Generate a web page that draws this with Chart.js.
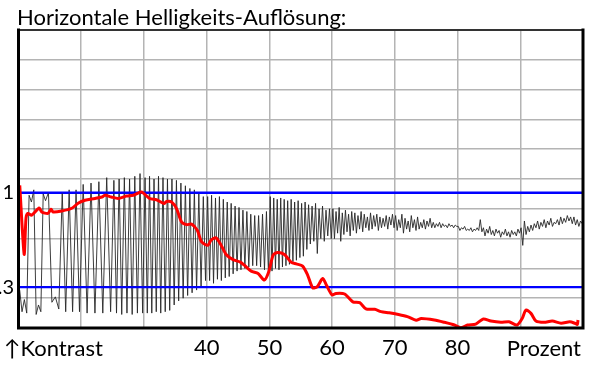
<!DOCTYPE html>
<html>
<head>
<meta charset="utf-8">
<script src="https://cdn.jsdelivr.net/npm/chart.js@4.4.1/dist/chart.umd.min.js"></script>
<style>
  html, body { margin: 0; padding: 0; background: #fff; }
</style>
</head>
<body>
<canvas id="chart" width="600" height="377"></canvas>
<script>
const titleText = "Horizontale Helligkeits-Auflösung:";
const xLeftLabel = "\u2191Kontrast";
const xRightLabel = "Prozent";
const xLabels = [40, 50, 60, 70, 80];
const yRefLevels = [1, 0.3];
const yRefLabels = ["1", ".3"];

// red curve: percent / contrast
const redX = [10.2, 10.9, 11.2, 11.5, 12.1, 13.3, 13.7, 14.7, 15.2, 15.5, 16.9, 18.5, 19.5, 20.6, 22.2, 23.3,
  23.8, 24.8, 25.9, 27.2, 28.3, 29.6, 30.9, 32.0, 33.2, 33.6, 34.4, 35.2, 36.0, 36.8, 37.6, 38.5, 39.2,
  40.2, 40.7, 41.5, 42.3, 43.1, 44.2, 45.3, 46.0, 47.1, 48.2, 49.2, 49.9, 50.6, 51.3, 52.4, 53.5, 54.3,
  55.3, 56.1, 56.9, 57.6, 58.5, 59.1, 60.0, 60.6, 62.0, 63.3, 64.4, 65.4, 66.8, 67.8, 69.1, 70.4, 72.0,
  73.4, 74.2, 76.3, 77.9, 79.5, 80.5, 81.6, 82.9, 84.1, 85.3, 86.9, 88.2, 89.5, 90.3, 90.9, 91.7, 92.5,
  93.8, 95.1, 96.5, 97.9, 98.7, 99.1, 99.2];
const redY = [1.053, 0.545, 0.811, 0.846, 0.833, 0.886, 0.857, 0.846, 0.877, 0.857, 0.864, 0.884, 0.921,
  0.943, 0.956, 0.967, 0.980, 0.967, 0.956, 0.974, 0.980, 1.004, 0.956, 0.947, 0.919, 0.934, 0.930, 0.881,
  0.782, 0.763, 0.767, 0.721, 0.635, 0.611, 0.648, 0.666, 0.611, 0.543, 0.505, 0.488, 0.464, 0.420, 0.402,
  0.354, 0.415, 0.538, 0.558, 0.543, 0.484, 0.473, 0.457, 0.391, 0.297, 0.303, 0.365, 0.316, 0.244, 0.255,
  0.251, 0.193, 0.187, 0.141, 0.138, 0.121, 0.112, 0.101, 0.084, 0.057, 0.070, 0.059, 0.042, 0.022, 0.002,
  0.022, 0.029, 0.066, 0.051, 0.042, 0.046, 0.022, 0.070, 0.132, 0.108, 0.051, 0.042, 0.051, 0.035, 0.046,
  0.035, 0.026, 0.059];

// gray curve: samples spread evenly inside each band
const grayEdges = [10, 14.5, 20, 25, 30, 40, 50, 60, 70, 80, 90, 100];
const grayRuns = [
  [0.28, 0.12, 0.21, 0.11, 0.98, 0.93, 1.02, 0.10, 0.17, 0.12, 0.99, 0.94],
  [1.00, 0.19, 0.23, 0.14, 1.00, 0.12, 1.02, 0.12, 1.02, 0.12],
  [1.06, 0.11, 1.07, 0.11, 1.08, 0.11, 1.11, 0.12],
  [1.09, 0.11, 1.10, 0.10, 1.11, 0.11, 1.10, 0.10, 1.12, 0.11, 1.14, 0.11],
  [1.11, 0.11, 1.12, 0.11, 1.10, 0.12, 1.12, 0.11, 1.11, 0.12, 1.10, 0.13, 1.10, 0.17, 1.09, 0.20,
   1.07, 0.22, 1.05, 0.24, 1.03, 0.26, 1.02, 0.28, 0.99, 0.31, 0.97, 0.35],
  [0.97, 0.35, 0.98, 0.33, 0.96, 0.36, 0.97, 0.35, 0.95, 0.37, 0.93, 0.38, 0.92, 0.40, 0.90, 0.42,
   0.89, 0.43, 0.87, 0.44, 0.86, 0.45, 0.84, 0.46, 0.83, 0.46, 0.83, 0.45, 0.84, 0.43, 0.86, 0.41],
  [0.97, 0.42, 0.96, 0.44, 0.95, 0.43, 0.96, 0.45, 0.95, 0.46, 0.94, 0.47, 0.95, 0.49, 0.93, 0.50,
   0.94, 0.52, 0.92, 0.53, 0.93, 0.58, 0.91, 0.62, 0.90, 0.64, 0.92, 0.55, 0.88, 0.66, 0.90, 0.64,
   0.87, 0.68, 0.88, 0.66],
  [0.88, 0.66, 0.86, 0.70, 0.89, 0.64, 0.85, 0.69, 0.87, 0.71, 0.84, 0.68, 0.86, 0.72, 0.85, 0.70,
   0.83, 0.73, 0.86, 0.71, 0.84, 0.74, 0.82, 0.72, 0.85, 0.73, 0.83, 0.75, 0.84, 0.72, 0.82, 0.74,
   0.81, 0.75, 0.83, 0.73, 0.82, 0.76, 0.84, 0.74],
  [0.83, 0.72, 0.80, 0.74, 0.84, 0.70, 0.81, 0.73, 0.79, 0.71, 0.83, 0.74, 0.80, 0.72, 0.82, 0.73,
   0.78, 0.74, 0.80, 0.73, 0.79, 0.75, 0.81, 0.74, 0.78, 0.74, 0.77, 0.75, 0.78, 0.74, 0.77, 0.75,
   0.76, 0.74, 0.77, 0.75, 0.76, 0.74, 0.76, 0.75],
  [0.75, 0.72, 0.74, 0.73, 0.75, 0.72, 0.73, 0.72, 0.74, 0.71, 0.73, 0.72, 0.74, 0.72, 0.80, 0.71,
   0.74, 0.68, 0.73, 0.70, 0.75, 0.69, 0.72, 0.68, 0.73, 0.70, 0.72, 0.67, 0.71, 0.69, 0.73, 0.68,
   0.71, 0.67, 0.72, 0.69, 0.71, 0.68, 0.73, 0.70],
  [0.74, 0.61, 0.79, 0.69, 0.75, 0.71, 0.76, 0.72, 0.77, 0.74, 0.79, 0.73, 0.78, 0.75, 0.80, 0.74,
   0.79, 0.76, 0.81, 0.75, 0.78, 0.77, 0.80, 0.76, 0.82, 0.77, 0.81, 0.78, 0.83, 0.79, 0.82, 0.77,
   0.82, 0.76, 0.80, 0.75, 0.79, 0.77]
];

const grayPoints = [];
grayRuns.forEach((run, b) => {
  const x0 = grayEdges[b], x1 = grayEdges[b + 1];
  run.forEach((v, i) => grayPoints.push({ x: x0 + (x1 - x0) * (i + 0.5) / run.length, y: v }));
});
const redPoints = redX.map((x, i) => ({ x: x, y: redY[i] }));
const refSets = yRefLevels.map((v) => ({
  data: [{ x: 10, y: v }, { x: 100, y: v }],
  borderColor: "#0000ff",
  borderWidth: 2,
  pointRadius: 0,
  order: 1,
}));

const FONT = "Lato, 'Open Sans', sans-serif";

const frameAndText = {
  id: "frameAndText",
  afterDraw(chart) {
    const { ctx, chartArea: a } = chart;
    ctx.save();
    ctx.lineCap = "square";
    ctx.strokeStyle = "#333";
    ctx.lineWidth = 2;
    ctx.beginPath();
    ctx.moveTo(a.left, a.top);
    ctx.lineTo(a.right, a.top);
    ctx.stroke();
    ctx.strokeStyle = "#000";
    ctx.lineWidth = 3;
    ctx.beginPath();
    ctx.moveTo(a.left, a.top);
    ctx.lineTo(a.left, a.bottom);
    ctx.lineTo(a.right, a.bottom);
    ctx.lineTo(a.right, a.top);
    ctx.stroke();

    ctx.fillStyle = "#000";
    ctx.textBaseline = "alphabetic";
    ctx.font = "22px " + FONT;
    ctx.textAlign = "left";
    ctx.fillText(titleText, 17, 25);
    ctx.fillText(xLeftLabel, 4, 356);
    ctx.textAlign = "right";
    ctx.fillText(xRightLabel, 581, 356);
    ctx.restore();
  },
};

new Chart(document.getElementById("chart"), {
  type: "line",
  data: {
    datasets: [
      {
        data: redPoints,
        borderColor: "#ff0000",
        borderWidth: 3,
        pointRadius: 0,
        tension: 0.25,
        order: 0,
      },
      ...refSets,
      {
        data: grayPoints,
        borderColor: "rgba(40, 40, 40, 0.9)",
        borderWidth: 1,
        pointRadius: 0,
        tension: 0,
        order: 2,
      },
    ],
  },
  options: {
    responsive: false,
    animation: false,
    devicePixelRatio: 1,
    layout: { padding: { top: 30, right: 17, left: 0, bottom: 0 } },
    plugins: {
      legend: { display: false },
      tooltip: { enabled: false },
    },
    scales: {
      x: {
        type: "linear",
        min: 10,
        max: 100,
        afterFit: (s) => { s.height = 49; },
        border: { display: false },
        grid: { color: "#b4b4b4", lineWidth: 1.5, drawTicks: false },
        ticks: {
          stepSize: 10,
          autoSkip: false,
          maxRotation: 0,
          padding: 7,
          color: "#000",
          font: { family: FONT, size: 22 },
          callback: (v) => (xLabels.includes(v) ? String(v) : ""),
        },
      },
      y: {
        type: "linear",
        min: 0,
        max: 2.2,
        afterFit: (s) => { s.width = 18.5; },
        afterBuildTicks: (scale) => {
          const vals = [];
          for (let k = 0; k <= 10; k++) vals.push(+(k * 0.22).toFixed(2));
          scale.ticks = vals.concat(yRefLevels).sort((p, q) => p - q).map((v) => ({ value: v }));
        },
        border: { display: false },
        grid: {
          color: (c) => (c.tick && yRefLevels.includes(c.tick.value) ? "#0000ff" : "#b4b4b4"),
          lineWidth: (c) => (c.tick && yRefLevels.includes(c.tick.value) ? 2 : 1.5),
          drawTicks: false,
        },
        ticks: {
          autoSkip: false,
          padding: 4.5,
          color: "#000",
          font: { family: FONT, size: 20 },
          callback: (v) => {
            const i = yRefLevels.indexOf(v);
            return i >= 0 ? yRefLabels[i] : "";
          },
        },
      },
    },
  },
  plugins: [frameAndText],
});
</script>
</body>
</html>
